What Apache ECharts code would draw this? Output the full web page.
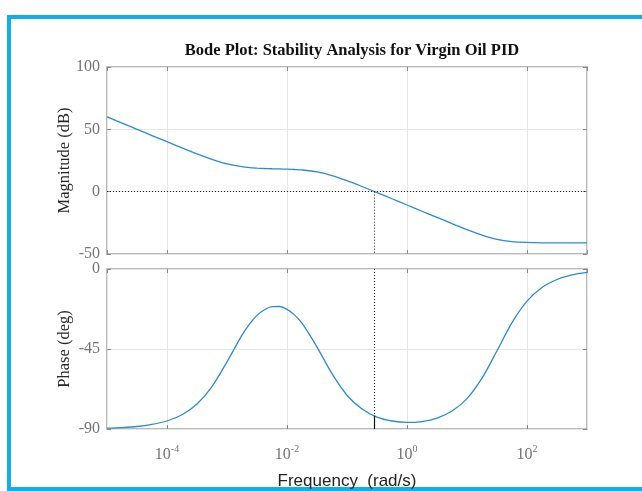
<!DOCTYPE html>
<html>
<head>
<meta charset="utf-8">
<script src="https://cdn.jsdelivr.net/npm/echarts@6/dist/echarts.min.js"></script>
<style>
  html, body { margin: 0; padding: 0; background: #fff; }
  #chart { width: 642px; height: 491px; }
</style>
</head>
<body>
<div id="chart"></div>
<script>
// frequency as decade exponent (log10 of rad/s)
const freqExp = [-5, -4.75, -4.5, -4.25, -4, -3.75, -3.5, -3.25, -3, -2.75, -2.625, -2.5, -2.375, -2.25, -2.125, -2,
    -1.875, -1.75, -1.5, -1.25, -1, -0.75, -0.5, -0.25, 0, 0.25, 0.5, 0.75, 1, 1.25, 1.5, 1.75, 2,
    2.25, 2.5, 2.75, 3];
const magnitudeDb = [60.0, 55.0, 50.0, 45.0, 40.1, 35.1, 30.3, 25.9, 22.3, 20.0, 19.3, 18.9, 18.6, 18.4, 18.25, 18.05,
    17.8, 17.4, 15.8, 12.9, 8.8, 4.15, -0.7, -5.7, -10.7, -15.7, -20.6, -25.6, -30.4, -34.8, -38.2, -40.0, -40.7,
    -41.0, -41.1, -41.1, -41.1];
const phaseDeg = [-89.5, -89.2, -88.6, -87.4, -85.5, -82.0, -75.9, -66.1, -52.2, -37.2, -31.0, -26.1, -22.9, -21.2, -21.1, -22.7,
    -25.8, -30.5, -43.9, -58.9, -71.0, -78.8, -83.3, -85.5, -86.3, -85.8, -83.9, -79.9, -72.9, -61.4, -46.0, -30.2, -18.1,
    -10.4, -5.9, -3.3, -1.9];
const xTickExp = [-4, -2, 0, 2];
const magTicks = [-50, 0, 50, 100];
const phaseTicks = [-90, -45, 0];
const crossoverExp = -0.54;
const crossoverPhase = -82.5;

const serif = 'Liberation Serif, Times New Roman, serif';
const frameColor = '#a3a3a3';
const gridColor = '#e6e6e6';
const lineColor = '#2b8bd3';
const labelColor = '#737373';

let magData = freqExp.map((f, i) => [f, magnitudeDb[i]]);
let phaseData = freqExp.map((f, i) => [f, phaseDeg[i]]);

function xAxisBase(gridIndex, position, showLabel) {
    return {
        type: 'value',
        gridIndex: gridIndex,
        position: position,
        min: freqExp[0],
        max: freqExp[freqExp.length - 1],
        splitNumber: 4,
        axisLine: { show: false, onZero: false },
        axisTick: { show: true, inside: true, length: 4, lineStyle: { color: '#888', width: 1 } },
        splitLine: { show: position === 'bottom', lineStyle: { color: gridColor, width: 1 } },
        axisLabel: {
            show: showLabel,
            showMinLabel: false,
            showMaxLabel: false,
            margin: 18,
            color: labelColor,
            fontFamily: serif,
            formatter: function (v) {
                return xTickExp.indexOf(v) >= 0 ? '{b|10}{e|' + v + '}' : '';
            },
            rich: {
                b: { fontSize: 16, fontFamily: serif, color: labelColor, verticalAlign: 'bottom', lineHeight: 16 },
                e: { fontSize: 10, fontFamily: serif, color: labelColor, verticalAlign: 'bottom', lineHeight: 10, padding: [0, 0, 9, 0] }
            }
        }
    };
}

function yAxisBase(gridIndex, position, ticks, name) {
    return {
        type: 'value',
        gridIndex: gridIndex,
        position: position,
        min: ticks[0],
        max: ticks[ticks.length - 1],
        interval: ticks[1] - ticks[0],
        name: position === 'left' ? name : '',
        nameLocation: 'middle',
        nameGap: 34,
        nameMoveOverlap: false,
        nameTextStyle: { fontFamily: serif, fontSize: 16.5, color: '#262626' },
        axisLine: { show: false, onZero: false },
        axisTick: { show: true, inside: true, length: 4, lineStyle: { color: '#888', width: 1 } },
        splitLine: { show: position === 'left', lineStyle: { color: gridColor, width: 1 } },
        axisLabel: {
            show: position === 'left',
            margin: 7,
            fontFamily: serif,
            fontSize: 16,
            color: labelColor
        }
    };
}

let option = {
    backgroundColor: '#fff',
    animation: false,
    title: {
        text: 'Bode Plot: Stability Analysis for Virgin Oil PID',
        left: 347,
        top: 37,
        textAlign: 'center',
        textStyle: { fontFamily: serif, fontSize: 16.5, fontWeight: 'bold', color: '#111' }
    },
    graphic: [
        {
            type: 'rect',
            silent: true,
            shape: { x: 9, y: 17, width: 700, height: 472 },
            style: { fill: 'none', stroke: '#13adea', lineWidth: 4 }
        }
    ],
    grid: [
        { left: 107, top: 67, width: 480, height: 187, show: true, borderColor: frameColor, borderWidth: 1.5, backgroundColor: 'transparent' },
        { left: 107, top: 269, width: 480, height: 164, show: true, borderColor: frameColor, borderWidth: 1.5, backgroundColor: 'transparent' }
    ],
    xAxis: [
        xAxisBase(0, 'bottom', false),
        xAxisBase(0, 'top', false),
        Object.assign(xAxisBase(1, 'bottom', true), {
            name: 'Frequency  (rad/s)',
            nameLocation: 'middle',
            nameGap: 44,
            nameMoveOverlap: false,
            nameTextStyle: { fontFamily: 'Liberation Sans, Arial, sans-serif', fontSize: 17, color: '#222' }
        }),
        xAxisBase(1, 'top', false)
    ],
    yAxis: [
        yAxisBase(0, 'left', magTicks, 'Magnitude (dB)'),
        yAxisBase(0, 'right', magTicks, ''),
        yAxisBase(1, 'left', phaseTicks, 'Phase (deg)'),
        yAxisBase(1, 'right', phaseTicks, '')
    ],
    series: [
        {
            name: 'Magnitude',
            type: 'line',
            xAxisIndex: 0,
            yAxisIndex: 0,
            data: magData,
            smooth: 0.3,
            symbol: 'none',
            lineStyle: { color: lineColor, width: 1.3 },
            markLine: {
                silent: true,
                symbol: 'none',
                label: { show: false },
                lineStyle: { color: '#222', width: 1, type: [1, 2] },
                data: [
                    { yAxis: 0 },
                    [{ coord: [crossoverExp, 0] }, { coord: [crossoverExp, magTicks[0]] }]
                ]
            }
        },
        {
            name: 'Phase',
            type: 'line',
            xAxisIndex: 2,
            yAxisIndex: 2,
            data: phaseData,
            smooth: 0.3,
            symbol: 'none',
            lineStyle: { color: lineColor, width: 1.3 },
            markLine: {
                silent: true,
                symbol: 'none',
                label: { show: false },
                data: [
                    [{ coord: [crossoverExp, 0], lineStyle: { color: '#222', width: 1, type: [1, 2] } },
                     { coord: [crossoverExp, crossoverPhase] }],
                    [{ coord: [crossoverExp, crossoverPhase], lineStyle: { color: '#111', width: 1.2, type: 'solid' } },
                     { coord: [crossoverExp, phaseTicks[0]] }]
                ]
            }
        }
    ]
};

let myChart = echarts.init(document.getElementById('chart'));
myChart.setOption(option);
</script>
</body>
</html>
